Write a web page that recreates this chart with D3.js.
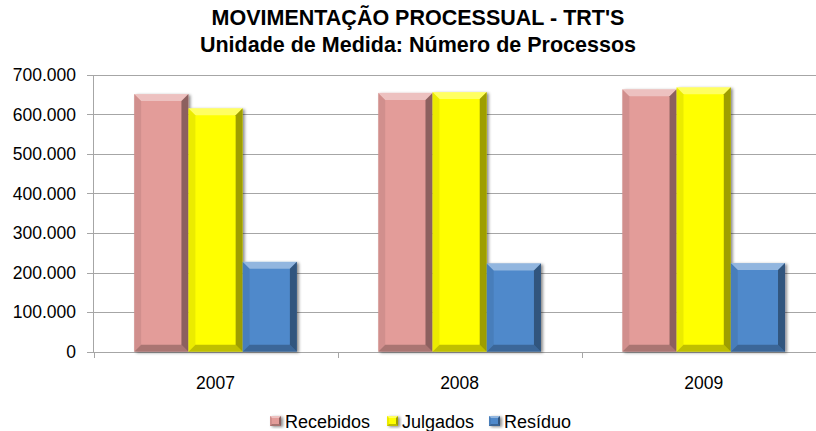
<!DOCTYPE html>
<html>
<head>
<meta charset="utf-8">
<script src="https://cdn.jsdelivr.net/npm/d3@7"></script>
<style>
  body { margin: 0; background: #fff; }
  svg { font-family: "Liberation Sans", Arial, sans-serif; display: block; }
</style>
</head>
<body>
<div id="chart"></div>
<script>
// data
var years = ["2007", "2008", "2009"];
var seriesNames = ["Recebidos", "Julgados", "Resíduo"];
var recebidos = [651000, 654000, 663000];
var julgados = [615000, 656000, 668000];
var residuo = [227000, 223000, 224000];
var yTicks = [0, 100000, 200000, 300000, 400000, 500000, 600000, 700000];

var colors = { "Recebidos": "#E39C99", "Julgados": "#FFFF00", "Resíduo": "#5089CB" };

var width = 816, height = 431;

var svg = d3.select("#chart")
    .append("svg")
    .attr("width", width)
    .attr("height", height);

var defs = svg.append("defs");
defs.append("filter")
    .attr("id", "shadow")
    .attr("x", "-20%").attr("y", "-20%").attr("width", "150%").attr("height", "150%")
    .append("feDropShadow")
    .attr("dx", 2).attr("dy", 1)
    .attr("stdDeviation", 1.5)
    .attr("flood-color", "#000")
    .attr("flood-opacity", 0.45);

var xScale = d3.scaleBand()
    .domain(years)
    .range([93.5, 825.7]);

var xInner = d3.scaleBand()
    .domain(seriesNames)
    .range([0, xScale.bandwidth()])
    .paddingInner(0)
    .paddingOuter(0.75);

var yScale = d3.scaleLinear()
    .domain([0, 700000])
    .range([351.7, 74.7]);

var fmt = function(v) {
    return d3.format(",")(v).replace(/,/g, ".");
};

// gridlines (with the small outside ticks)
svg.append("g")
    .selectAll("line")
    .data(yTicks)
    .enter()
    .append("line")
    .attr("x1", 87)
    .attr("x2", width)
    .attr("y1", function(d) { return Math.round(yScale(d)) + 0.5; })
    .attr("y2", function(d) { return Math.round(yScale(d)) + 0.5; })
    .style("stroke", "#A6A6A6")
    .style("stroke-width", 1);

// y axis line
svg.append("line")
    .attr("x1", 93.5).attr("x2", 93.5)
    .attr("y1", Math.round(yScale(700000)) + 0.5)
    .attr("y2", Math.round(yScale(0)) + 0.5)
    .style("stroke", "#A6A6A6");

// y tick labels
svg.append("g")
    .selectAll("text")
    .data(yTicks)
    .enter()
    .append("text")
    .attr("x", 76)
    .attr("y", function(d) { return yScale(d); })
    .attr("dy", "0.36em")
    .attr("text-anchor", "end")
    .style("font-size", "17.5px")
    .style("fill", "#000")
    .text(function(d) { return fmt(d); });

// category ticks on x axis
var boundaries = years.map(function(y) { return xScale(y); });
svg.append("g")
    .selectAll("line")
    .data(boundaries)
    .enter()
    .append("line")
    .attr("x1", function(d) { return Math.round(d) + 0.5; })
    .attr("x2", function(d) { return Math.round(d) + 0.5; })
    .attr("y1", Math.round(yScale(0)) + 0.5)
    .attr("y2", Math.round(yScale(0)) + 6)
    .style("stroke", "#A6A6A6");

// x labels
svg.append("g")
    .selectAll("text")
    .data(years)
    .enter()
    .append("text")
    .attr("x", function(d) { return xScale(d) + xScale.bandwidth() / 2; })
    .attr("y", 389)
    .attr("text-anchor", "middle")
    .style("font-size", "17.5px")
    .text(function(d) { return d; });

// flatten bars
var bars = [];
years.forEach(function(y, i) {
    bars.push({ year: y, name: "Recebidos", value: recebidos[i] });
    bars.push({ year: y, name: "Julgados", value: julgados[i] });
    bars.push({ year: y, name: "Resíduo", value: residuo[i] });
});

function bevel(g, x, y, w, h, color, b) {
    g.append("rect")
        .attr("x", x).attr("y", y)
        .attr("width", w).attr("height", h)
        .attr("fill", color)
        .attr("filter", "url(#shadow)");
    var pts = function(a) { return a.map(function(p) { return p.join(","); }).join(" "); };
    // top
    g.append("polygon")
        .attr("points", pts([[x, y], [x + w, y], [x + w - b, y + b], [x + b, y + b]]))
        .attr("fill", "#fff").attr("fill-opacity", 0.38);
    // left
    g.append("polygon")
        .attr("points", pts([[x, y], [x + b, y + b], [x + b, y + h - b], [x, y + h]]))
        .attr("fill", "#000").attr("fill-opacity", 0.08);
    // right
    g.append("polygon")
        .attr("points", pts([[x + w, y], [x + w, y + h], [x + w - b, y + h - b], [x + w - b, y + b]]))
        .attr("fill", "#000").attr("fill-opacity", 0.38);
    // bottom
    g.append("polygon")
        .attr("points", pts([[x, y + h], [x + w, y + h], [x + w - b, y + h - b], [x + b, y + h - b]]))
        .attr("fill", "#000").attr("fill-opacity", 0.25);
}

var barG = svg.append("g");
bars.forEach(function(d) {
    var x = xScale(d.year) + xInner(d.name);
    var w = xInner.bandwidth();
    var y = yScale(d.value);
    var h = yScale(0) - y;
    bevel(barG.append("g"), x, y, w, h, colors[d.name], 7);
});

// title
svg.append("text")
    .attr("x", 418)
    .attr("y", 25)
    .attr("text-anchor", "middle")
    .style("font-size", "21.5px")
    .style("font-weight", "bold")
    .text("MOVIMENTAÇÃO PROCESSUAL - TRT'S");
svg.append("text")
    .attr("x", 418)
    .attr("y", 52)
    .attr("text-anchor", "middle")
    .style("font-size", "21.5px")
    .style("font-weight", "bold")
    .text("Unidade de Medida: Número de Processos");

// legend
var legendX = [270, 387, 489];
var legend = svg.append("g");
seriesNames.forEach(function(name, i) {
    bevel(legend.append("g"), legendX[i], 416, 11, 10, colors[name], 2);
    legend.append("text")
        .attr("x", legendX[i] + 15)
        .attr("y", 428)
        .style("font-size", "18px")
        .text(name);
});
</script>
</body>
</html>
